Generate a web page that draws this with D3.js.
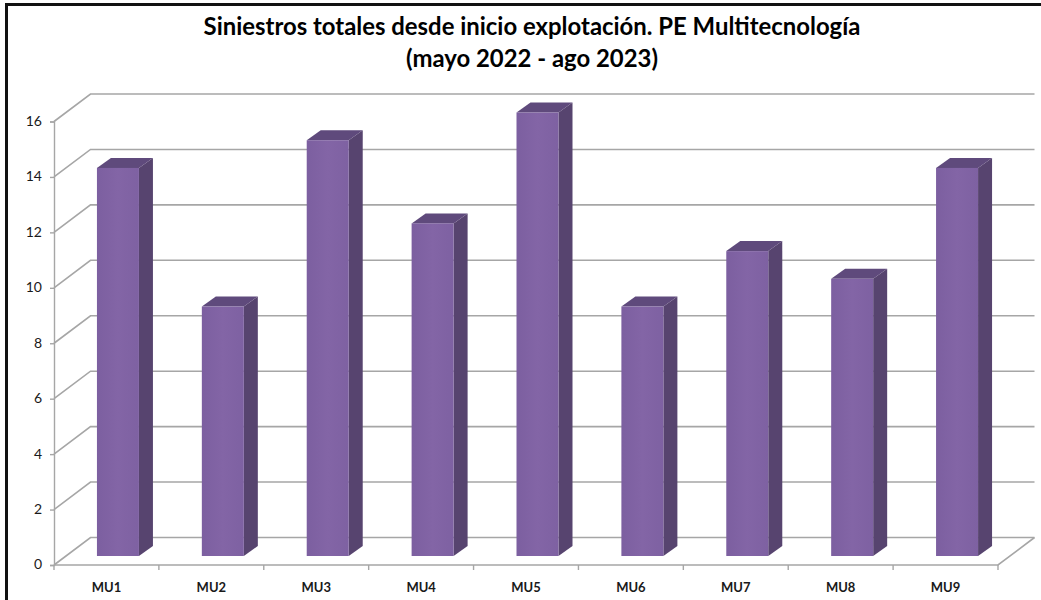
<!DOCTYPE html>
<html>
<head>
<meta charset="utf-8">
<script src="https://cdnjs.cloudflare.com/ajax/libs/d3/7.8.5/d3.min.js"></script>
<style>
  html, body { margin: 0; padding: 0; background: #fff; }
  svg { display: block; }
  text { font-family: Lato, "Open Sans", sans-serif; fill: #1a1a1a; }
</style>
</head>
<body>
<svg width="1041" height="600"></svg>
<script>
const categories = ["MU1", "MU2", "MU3", "MU4", "MU5", "MU6", "MU7", "MU8", "MU9"];
const values = [14, 9, 15, 12, 16, 9, 11, 10, 14];
const yTicks = [0, 2, 4, 6, 8, 10, 12, 14, 16];
const titleLines = [
  "Siniestros totales desde inicio explotación. PE Multitecnología",
  "(mayo 2022 - ago 2023)"
];

const svg = d3.select("svg");

const x = d3.scaleBand().domain(categories).range([54, 998]);
const y = d3.scaleLinear().domain([0, 16]).range([565, 121.5]);

// depth of the 3d box, back wall offset from the front axis
const wallDx = 36.5;
const wallDy = -27.5;
// bars sit part way into the box
const barInX = x.bandwidth() / 2 - 9.5;
const barInY = -9;
const barW = 42;
const barDx = 14;
const barDy = -10;

const gridColor = "#a6a6a6";

// frame, only top and left are in the picture
svg.append("path")
  .attr("d", d3.line()([[6.5, 600], [6.5, 4.5], [1041, 4.5]]))
  .attr("fill", "none")
  .attr("stroke", "#111")
  .attr("stroke-width", 3);

svg.selectAll("text.title")
  .data(titleLines)
  .enter()
  .append("text")
  .attr("class", "title")
  .attr("x", 532)
  .attr("y", (d, i) => 35 + i * 32)
  .attr("text-anchor", "middle")
  .attr("font-size", 23.9)
  .attr("font-weight", 700)
  .style("fill", "#000")
  .text(d => d);

// back wall lines and side wall diagonals
const grid = svg.append("g")
  .attr("fill", "none")
  .attr("stroke", gridColor)
  .attr("stroke-width", 1.6);

grid.selectAll("path.wall")
  .data(yTicks)
  .enter()
  .append("path")
  .attr("class", "wall")
  .attr("d", d => d3.line()([
    [x.range()[0], y(d)],
    [x.range()[0] + wallDx, y(d) + wallDy],
    [x.range()[1] + wallDx, y(d) + wallDy]
  ]));

// floor edge on the right
grid.append("path")
  .attr("d", d3.line()([
    [x.range()[0], y(0)],
    [x.range()[1], y(0)],
    [x.range()[1] + wallDx, y(0) + wallDy]
  ]));

// axes
const yAxis = d3.axisLeft(y).tickValues(yTicks).tickSize(4).tickPadding(8);
const yG = svg.append("g")
  .attr("transform", `translate(${x.range()[0]},0)`)
  .call(yAxis);
yG.selectAll("path, line").attr("stroke", gridColor).attr("stroke-width", 1.4);
yG.selectAll("text").attr("font-size", 14).style("font-family", "Lato, sans-serif").attr("dy", "0.28em");

const xAxis = d3.axisBottom(x).tickSize(0).tickPadding(18);
const xG = svg.append("g")
  .attr("transform", `translate(0,${y(0)})`)
  .call(xAxis);
xG.select(".domain").remove();
xG.selectAll("text")
  .attr("font-size", 13)
  .attr("font-weight", 700)
  .style("font-family", "Lato, sans-serif");
xG.selectAll("line.sep")
  .data(d3.range(categories.length + 1))
  .enter()
  .append("line")
  .attr("class", "sep")
  .attr("x1", i => x.range()[0] + i * x.step())
  .attr("x2", i => x.range()[0] + i * x.step())
  .attr("y1", 0)
  .attr("y2", 5)
  .attr("stroke", gridColor)
  .attr("stroke-width", 1.4);

// bar shading
const defs = svg.append("defs");
const grad = defs.append("linearGradient").attr("id", "barFront")
  .attr("x1", 0).attr("x2", 1).attr("y1", 0).attr("y2", 0);
grad.append("stop").attr("offset", "0%").attr("stop-color", "#7c5fa0");
grad.append("stop").attr("offset", "50%").attr("stop-color", "#8365a6");
grad.append("stop").attr("offset", "100%").attr("stop-color", "#7e61a2");

const bars = svg.selectAll("g.bar")
  .data(categories.map((c, i) => ({ name: c, value: values[i] })))
  .enter()
  .append("g")
  .attr("class", "bar");

function barLeft(d) { return x(d.name) + barInX; }
function barTop(d) { return y(d.value) + barInY; }
function barBase() { return y(0) + barInY; }

// right side
bars.append("path")
  .attr("fill", "#57446f")
  .attr("d", d => d3.line()([
    [barLeft(d) + barW, barTop(d)],
    [barLeft(d) + barW + barDx, barTop(d) + barDy],
    [barLeft(d) + barW + barDx, barBase() + barDy],
    [barLeft(d) + barW, barBase()]
  ]) + "Z");

// top
bars.append("path")
  .attr("fill", "#5f4a7c")
  .attr("d", d => d3.line()([
    [barLeft(d), barTop(d)],
    [barLeft(d) + barDx, barTop(d) + barDy],
    [barLeft(d) + barW + barDx, barTop(d) + barDy],
    [barLeft(d) + barW, barTop(d)]
  ]) + "Z");

// front
bars.append("rect")
  .attr("fill", "url(#barFront)")
  .attr("x", barLeft)
  .attr("y", barTop)
  .attr("width", barW)
  .attr("height", d => barBase() - barTop(d));
</script>
</body>
</html>
